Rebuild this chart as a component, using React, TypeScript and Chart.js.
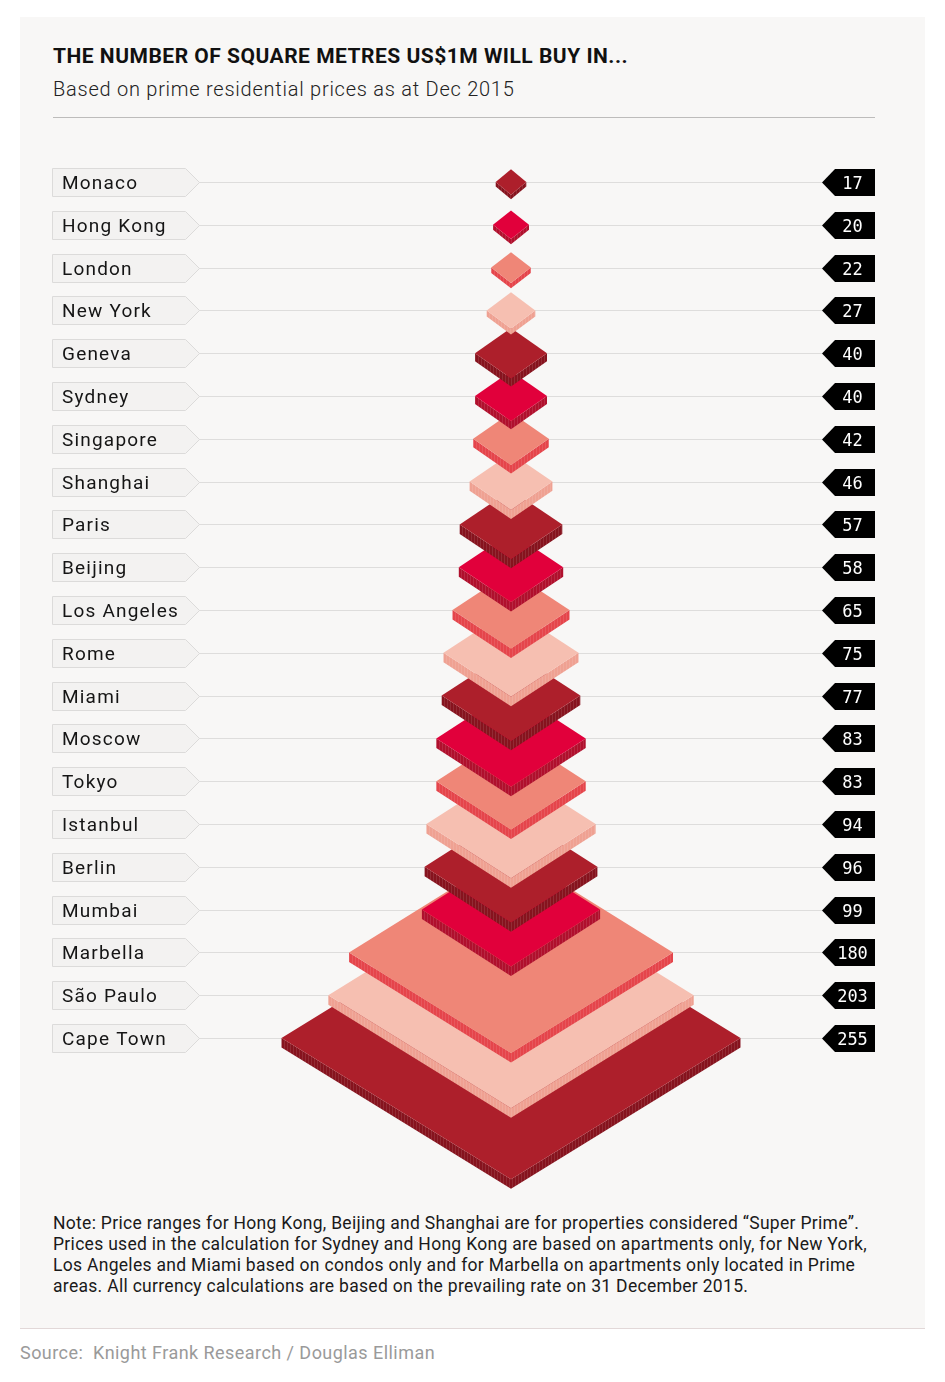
import React, { useEffect, useRef } from "react";
import { Chart, registerables } from "chart.js";

Chart.register(...registerables);

// ---------- data ----------
const cities = [
  "Monaco", "Hong Kong", "London", "New York", "Geneva", "Sydney", "Singapore",
  "Shanghai", "Paris", "Beijing", "Los Angeles", "Rome", "Miami", "Moscow",
  "Tokyo", "Istanbul", "Berlin", "Mumbai", "Marbella", "São Paulo", "Cape Town",
];
const sqMetres = [17, 20, 22, 27, 40, 40, 42, 46, 57, 58, 65, 75, 77, 83, 83, 94, 96, 99, 180, 203, 255];
const valueLabels = sqMetres.map((v) => String(v));

const topColors = ["#ad1f2b", "#e1003b", "#ef8677", "#f6bfb1"];
const sideColors = ["#86131e", "#b0102d", "#e5454b", "#efa192"];

const TITLE = "THE NUMBER OF SQUARE METRES US$1M WILL BUY IN...";
const SUBTITLE = "Based on prime residential prices as at Dec 2015";
const NOTE_LINES = [
  "Note: Price ranges for Hong Kong, Beijing and Shanghai are for properties considered \u201cSuper Prime\u201d.",
  "Prices used in the calculation for Sydney and Hong Kong are based on apartments only, for New York,",
  "Los Angeles and Miami based on condos only and for Marbella on apartments only located in Prime",
  "areas. All currency calculations are based on the prevailing rate on 31 December 2015.",
];
const SOURCE = "Source:  Knight Frank Research / Douglas Elliman";

// ---------- layout (canvas coordinates) ----------
const CANVAS_LEFT = 20;
const CANVAS_TOP = 130;
const CANVAS_W = 905;
const CANVAS_H = 1070;
const BOX_L = 32, BOX_R = 165, BOX_TIP = 179, BOX_H = 28;
const TAG_TIP = 802, TAG_L = 815, TAG_R = 855;

const pyramidPlugin = {
  id: "pyramid",
  beforeDatasetsDraw(chart: any) {
    const { ctx } = chart;
    const ys = chart.scales.y;
    ctx.save();
    cities.forEach((name, i) => {
      const py = Math.round(ys.getPixelForValue(i));
      // connector line
      ctx.strokeStyle = "#dedddc";
      ctx.lineWidth = 1;
      ctx.beginPath();
      ctx.moveTo(BOX_TIP, py + 0.5);
      ctx.lineTo(TAG_TIP, py + 0.5);
      ctx.stroke();
      // label box
      const t = py - BOX_H / 2, b = py + BOX_H / 2;
      ctx.beginPath();
      ctx.moveTo(BOX_L + 0.5, t + 0.5);
      ctx.lineTo(BOX_R + 0.5, t + 0.5);
      ctx.lineTo(BOX_TIP + 0.5, py + 0.5);
      ctx.lineTo(BOX_R + 0.5, b + 0.5);
      ctx.lineTo(BOX_L + 0.5, b + 0.5);
      ctx.closePath();
      ctx.fillStyle = "#f3f2f1";
      ctx.fill();
      ctx.strokeStyle = "#dcdbda";
      ctx.stroke();
      ctx.fillStyle = "#151515";
      ctx.font = "400 19px Roboto";
      (ctx as any).letterSpacing = "1.2px";
      ctx.textAlign = "left";
      ctx.textBaseline = "alphabetic";
      ctx.fillText(name, BOX_L + 10, py + 7);
      (ctx as any).letterSpacing = "0px";
      // value tag
      ctx.beginPath();
      ctx.moveTo(TAG_TIP, py + 0.5);
      ctx.lineTo(TAG_L, t + 1);
      ctx.lineTo(TAG_R, t + 1);
      ctx.lineTo(TAG_R, b);
      ctx.lineTo(TAG_L, b);
      ctx.closePath();
      ctx.fillStyle = "#000";
      ctx.fill();
      ctx.fillStyle = "#fff";
      ctx.font = "400 17px 'DejaVu Sans Mono'";
      ctx.textAlign = "center";
      ctx.fillText(valueLabels[i], (TAG_L + TAG_R) / 2 - 2.5, py + 6.5);
    });
    ctx.restore();
  },
  afterDatasetsDraw(chart: any) {
    const { ctx } = chart;
    const xs = chart.scales.x;
    const ys = chart.scales.y;
    const pts = chart.data.datasets[0].data as { x: number; y: number }[];
    ctx.save();
    // largest (bottom) first, so smaller upper layers sit on top
    for (let i = pts.length - 1; i >= 0; i--) {
      const p = pts[i];
      const cx = xs.getPixelForValue(0);
      const cy = ys.getPixelForValue(p.y);
      const hw = xs.getPixelForValue(p.x) - cx;
      const hh = 3.5 + 0.6 * hw;
      const th = Math.min(9.5, 2 + 0.17 * hw);
      const ci = i % 4;
      // side faces
      ctx.beginPath();
      ctx.moveTo(cx - hw, cy);
      ctx.lineTo(cx, cy + hh);
      ctx.lineTo(cx + hw, cy);
      ctx.lineTo(cx + hw, cy + th);
      ctx.lineTo(cx, cy + hh + th);
      ctx.lineTo(cx - hw, cy + th);
      ctx.closePath();
      ctx.fillStyle = sideColors[ci];
      ctx.fill();
      // stripes on side
      ctx.save();
      ctx.clip();
      ctx.strokeStyle = "rgba(255,255,255,0.1)";
      ctx.lineWidth = 1;
      for (let sx = Math.floor(cx - hw); sx < cx + hw; sx += 3) {
        ctx.beginPath();
        ctx.moveTo(sx + 0.5, cy - 2);
        ctx.lineTo(sx + 0.5, cy + hh + th + 2);
        ctx.stroke();
      }
      ctx.restore();
      // top face
      ctx.beginPath();
      ctx.moveTo(cx - hw, cy);
      ctx.lineTo(cx, cy - hh);
      ctx.lineTo(cx + hw, cy);
      ctx.lineTo(cx, cy + hh);
      ctx.closePath();
      ctx.fillStyle = topColors[ci];
      ctx.fill();
    }
    ctx.restore();
  },
};

function PyramidChart() {
  const ref = useRef<HTMLCanvasElement | null>(null);
  useEffect(() => {
    if (!ref.current) return;
    const pxPerUnit = 0.9;
    const xMin = -(511 - CANVAS_LEFT) / pxPerUnit;
    const xMax = xMin + CANVAS_W / pxPerUnit;
    const rowPx = 42.8;
    const yMin = -(182 - CANVAS_TOP) / rowPx;
    const yMax = yMin + CANVAS_H / rowPx;
    const chart = new Chart(ref.current, {
      type: "scatter",
      data: {
        datasets: [
          {
            label: "Square metres",
            data: sqMetres.map((v, i) => ({ x: v, y: i })),
            pointRadius: 0,
            pointHoverRadius: 0,
            showLine: false,
          },
        ],
      },
      options: {
        animation: false,
        responsive: false,
        maintainAspectRatio: false,
        layout: { padding: 0 },
        events: [],
        plugins: { legend: { display: false }, tooltip: { enabled: false } },
        scales: {
          x: { type: "linear", min: xMin, max: xMax, display: false },
          y: { type: "linear", min: yMin, max: yMax, reverse: true, display: false },
        },
      },
      plugins: [pyramidPlugin],
    });
    return () => chart.destroy();
  }, []);
  return (
    <canvas
      ref={ref}
      width={CANVAS_W}
      height={CANVAS_H}
      style={{ position: "absolute", left: CANVAS_LEFT, top: CANVAS_TOP, width: CANVAS_W, height: CANVAS_H }}
    />
  );
}

export default function App() {
  return (
    <div style={{ position: "absolute", left: 0, top: 0, width: 945, height: 1382, background: "#ffffff", overflow: "hidden" }}>
      <div style={{ position: "absolute", left: 20, top: 17, width: 905, height: 1311, background: "#f8f7f6" }} />
      <div style={{ position: "absolute", left: 20, top: 1328, width: 905, height: 1, background: "#e2d8d8" }} />
      <div
        style={{
          position: "absolute", left: 53, top: 46, fontFamily: "Roboto", fontWeight: 700, fontSize: 21,
          lineHeight: "21px", color: "#111", whiteSpace: "nowrap", letterSpacing: "0.5px",
        }}
      >
        {TITLE}
      </div>
      <div
        style={{
          position: "absolute", left: 53, top: 79, fontFamily: "Roboto", fontWeight: 300, fontSize: 20,
          lineHeight: "20px", color: "#222", whiteSpace: "nowrap", letterSpacing: "0.75px",
        }}
      >
        {SUBTITLE}
      </div>
      <div style={{ position: "absolute", left: 53, top: 117, width: 822, height: 1, background: "#bdbcbb" }} />
      <PyramidChart />
      <div
        style={{
          position: "absolute", left: 53, top: 1213, fontFamily: "Roboto", fontWeight: 400, fontSize: 17.5,
          lineHeight: "21px", color: "#1a1a1a", whiteSpace: "nowrap", letterSpacing: "0.3px",
        }}
      >
        {NOTE_LINES.map((l, i) => (
          <div key={i}>{l}</div>
        ))}
      </div>
      <div
        style={{
          position: "absolute", left: 20, top: 1344, fontFamily: "Roboto", fontWeight: 400, fontSize: 18,
          lineHeight: "18px", color: "#9a9a9a", whiteSpace: "pre", letterSpacing: "0.45px",
        }}
      >
        {SOURCE}
      </div>
    </div>
  );
}
